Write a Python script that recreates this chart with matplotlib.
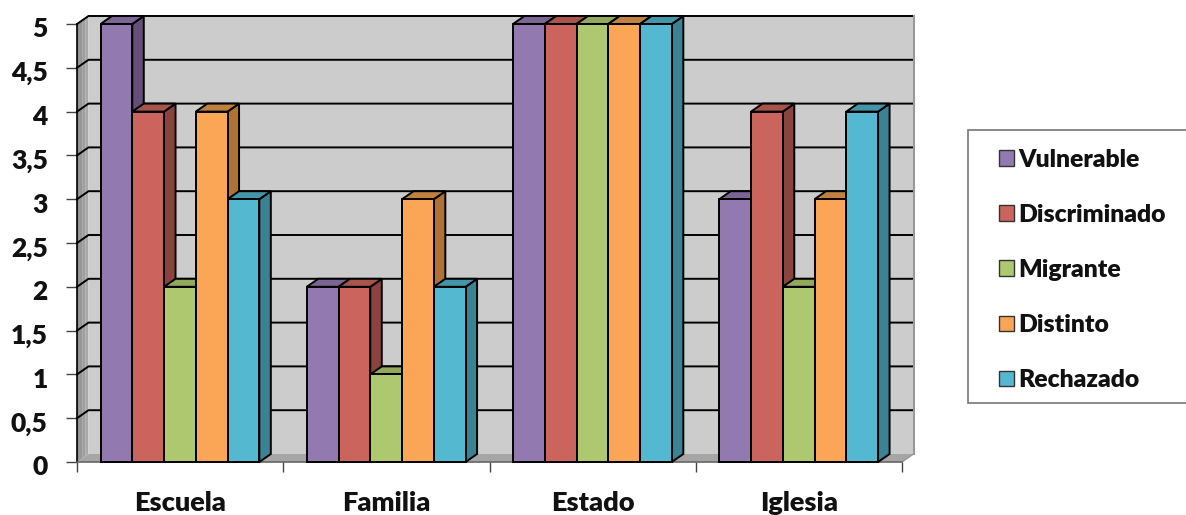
import matplotlib
matplotlib.use('Agg')
import matplotlib.pyplot as plt
from matplotlib.patches import Polygon, Patch, Rectangle
from matplotlib.transforms import ScaledTranslation
import numpy as np

plt.rcParams['font.family'] = ['Lato', 'DejaVu Sans']
plt.rcParams['font.weight'] = 'heavy'

categories = ['Escuela', 'Familia', 'Estado', 'Iglesia']
series_names = ['Vulnerable', 'Discriminado', 'Migrante', 'Distinto', 'Rechazado']
vulnerable = [5, 2, 5, 3]
discriminado = [4, 2, 5, 4]
migrante = [2, 1, 5, 2]
distinto = [4, 3, 5, 3]
rechazado = [3, 2, 5, 4]
all_series = [vulnerable, discriminado, migrante, distinto, rechazado]

front_cols = ['#9279B0', '#CB645C', '#AEC86F', '#FBA557', '#55B8D1']
top_cols = ['#7B6595', '#A8544D', '#92A95C', '#C08040', '#4595A9']
side_cols = ['#654F78', '#8B433D', '#76894A', '#AE7234', '#3A8294']

y_ticks = [0, 1, 2, 3, 4, 5]
y_minor = [0.5, 1.5, 2.5, 3.5, 4.5]

W, H = 1186, 515
fig = plt.figure(figsize=(W / 100, H / 100), dpi=100)
# front plane of the 3d box: x 77..902, y 462..24 px
ax = fig.add_axes([77 / W, (H - 462) / H, 825 / W, 438 / H])
ax.set_xlim(0, 4)
ax.set_ylim(0, 5)
for s in ax.spines.values():
    s.set_visible(False)
ax.patch.set_visible(False)

# depth offset in data units
dx = 11.5 / (825 / 4)
dy = 8 / (438 / 5)
lw = 1.4


def poly(pts, fc, ec='none', lw_=0, z=1):
    ax.add_patch(Polygon(pts, closed=True, fc=fc, ec=ec, lw=lw_, zorder=z,
                         clip_on=False, joinstyle='miter'))


# back wall, floor, left wall
poly([(dx, dy), (4 + dx, dy), (4 + dx, 5 + dy), (dx, 5 + dy)], '#CCCCCC')
poly([(0, 0), (4, 0), (4 + dx, dy), (dx, dy)], '#A6A6A6')
greys = ['#8E8E8E', '#969696', '#9E9E9E', '#A8A8A8']
for i, g in enumerate(greys):
    a = dx * i / 4
    b = dx * (i + 1) / 4
    poly([(a, a / dx * dy), (b, b / dx * dy), (b, 5 + b / dx * dy), (a, 5 + a / dx * dy)], g)

# gridlines on the walls
for v in y_minor + y_ticks[1:]:
    ax.plot([0, dx, 4 + dx], [v, v + dy, v + dy], color='black', lw=1.4, zorder=2,
            clip_on=False, solid_joinstyle='miter')
ax.plot([4 + dx, 4 + dx], [dy, 5 + dy], color='#999999', lw=1.5, zorder=2, clip_on=False)
ax.plot([4, 4 + dx], [0, dy], color='#999999', lw=1, zorder=2, clip_on=False)
ax.plot([0, 0], [0, 5], color='black', lw=1.2, zorder=3, clip_on=False)
ax.plot([0, 4], [0, 0], color='#666666', lw=1.2, zorder=3, clip_on=False)

# bars, drawn left to right so the next front hides the side before it
bar_w = 0.154
start = 0.114
z = 4
for c in range(len(categories)):
    for k, vals in enumerate(all_series):
        x0 = c + start + k * bar_w
        x1 = x0 + bar_w
        v = vals[c]
        poly([(x1, 0), (x1 + dx, dy), (x1 + dx, v + dy), (x1, v)], side_cols[k], 'black', lw, z)
        poly([(x0, v), (x1, v), (x1 + dx, v + dy), (x0 + dx, v + dy)], top_cols[k], 'black', lw, z)
        poly([(x0, 0), (x1, 0), (x1, v), (x0, v)], front_cols[k], 'black', lw, z + 1)
        z += 2

# axes ticks and labels
ax.set_yticks(y_ticks)
ax.set_yticklabels([str(v) for v in y_ticks])
ax.set_yticks(y_minor, minor=True)
ax.set_yticklabels([str(v).replace('.', ',') for v in y_minor], minor=True)
ax.tick_params(axis='y', which='both', length=8, width=1, color='#444444', pad=13, labelsize=19)
ax.set_xticks(range(5))
ax.set_xticklabels([''] * 5)
ax.tick_params(axis='x', length=7, width=1, color='#444444')
for i, name in enumerate(categories):
    ax.annotate(name, (i + 0.5, 0), xytext=(0, -41), textcoords='offset pixels',
                ha='center', va='center', fontsize=19.5, fontweight='heavy', color='#111111')
# labels sit a little below their ticks in the original
shift = ScaledTranslation(0, -2.5 / 72, fig.dpi_scale_trans)
for lab in ax.get_yticklabels(which='both'):
    lab.set_color('#111111')
    lab.set_fontweight('heavy')
    lab.set_transform(lab.get_transform() + shift)

# legend box runs off to the right edge of the image
fig.add_artist(Rectangle((968 / W, (H - 403) / H), 240 / W, 273 / H, transform=fig.transFigure,
                         fc='white', ec='#777777', lw=1.2))
handles = [Patch(fc=front_cols[k], ec='#333333', lw=1, label=series_names[k]) for k in range(5)]
leg = fig.legend(handles=handles, loc='center left', bbox_to_anchor=(999 / W, (H - 270) / H),
                 frameon=False, fontsize=17.8, handlelength=0.6, handleheight=0.6,
                 handletextpad=0.17, labelspacing=1.34, borderpad=0, borderaxespad=0)
for t in leg.get_texts():
    t.set_color('#111111')
    t.set_fontweight('heavy')

fig.savefig('out.png', dpi=100, facecolor='white')
